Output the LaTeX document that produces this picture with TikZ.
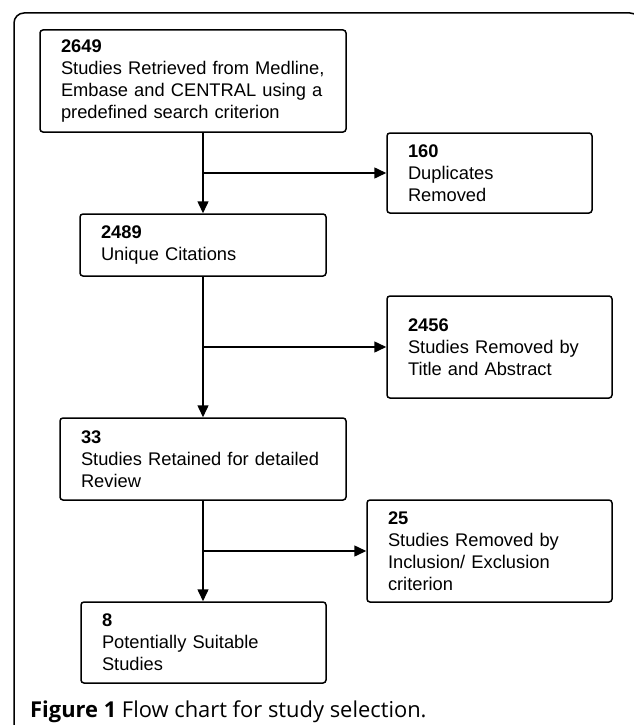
\documentclass[tikz,border=0pt]{standalone}
\usepackage{fontspec}
\setmainfont{Liberation Sans}
\newfontfamily\capfont{Open Sans}
\usetikzlibrary{arrows.meta,positioning}

\tikzset{
  stage/.style={draw, line width=1.5pt, rounded corners=3pt, align=left,
    inner xsep=21pt, inner ysep=0pt, font=\fontsize{18.3}{22}\selectfont},
  flow/.style={line width=1.5pt, -{Triangle[length=12pt,width=11pt]}}
}

\begin{document}
\begin{tikzpicture}[x=1pt,y=-1pt]
        \useasboundingbox (0,0) rectangle (633,725);

        % the outer frame
        \draw[line width=1.5pt, rounded corners=10pt] (14,740) -- (14,13) -- (640,13) -- (640,740);

        % the boxes of the main flow
        \node[stage, text width=264pt, minimum height=102pt] (ret) at (193,81)
            {\textbf{2649}\\Studies Retrieved from Medline,\\Embase and CENTRAL using a\\predefined search criterion};
        \node[stage, text width=204pt, minimum height=62pt] (uniq) at (203,245)
            {\textbf{2489}\\Unique Citations};
        \node[stage, text width=244pt, minimum height=82pt] (kept) at (203,459)
            {\textbf{33}\\Studies Retained for detailed\\Review};
        \node[stage, text width=203pt, minimum height=81pt] (final) at (203.5,642.5)
            {\textbf{8}\\Potentially Suitable\\Studies};

        % the boxes of the removed studies
        \node[stage, text width=163pt, minimum height=80pt] (dup) at (489.5,173)
            {\textbf{160}\\Duplicates\\Removed};
        \node[stage, text width=183pt, minimum height=102pt] (tiab) at (499.5,347)
            {\textbf{2456}\\Studies Removed by\\Title and Abstract};
        \node[stage, text width=203pt, minimum height=102pt] (incl) at (489.5,551)
            {\textbf{25}\\Studies Removed by\\Inclusion/ Exclusion\\criterion};

        % the arrows
        \draw[flow] (ret.south -| uniq.north) -- (uniq.north);
        \draw[flow] (dup.west -| uniq.north) -- (dup.west);
        \draw[flow] (uniq.south) -- (kept.north);
        \draw[flow] (tiab.west -| uniq.south) -- (tiab.west);
        \draw[flow] (kept.south) -- (kept.south |- final.north);
        \draw[flow] (incl.west -| kept.south) -- (incl.west);

        % the caption
        \node[anchor=base west, inner sep=0pt, font=\capfont\fontsize{21.9}{26}\selectfont] (cap) at (30,717)
            {\textbf{Figure 1} Flow chart for study selection.};
\end{tikzpicture}
\end{document}
